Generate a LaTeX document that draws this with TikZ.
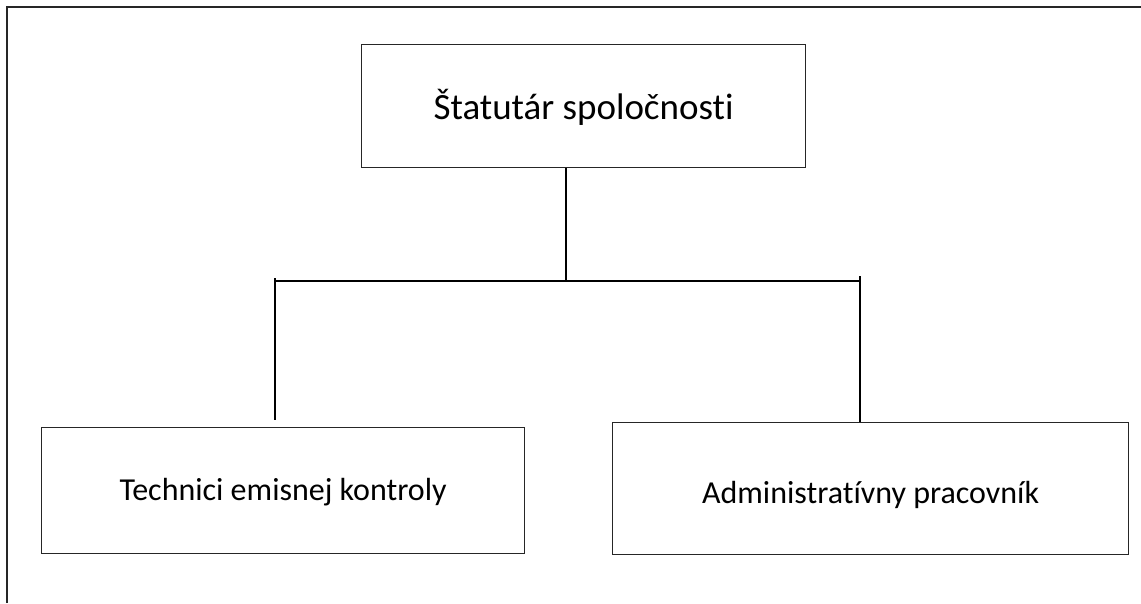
\documentclass[tikz,border=0pt]{standalone}
\usepackage{fontspec}
\setmainfont[Ligatures=NoCommon]{Carlito}
\begin{document}
\begin{tikzpicture}[x=1pt,y=-1pt,
  box/.style={draw=black!85,line width=1.2pt,inner sep=0pt,anchor=north west},
  conn/.style={draw=black,line width=2pt},
  frameline/.style={draw=black!85,line width=1.3pt}]
\useasboundingbox (0,0) rectangle (1141,603);
\fill[white] (0,0) rectangle (1141,603);
% outer frame
\draw[frameline] (7,603) -- (7,7) -- (1141,7);
% boxes
\node[box,minimum width=444pt,minimum height=123pt] (top) at (361,44) {};
\node[font=\fontsize{37}{44}\selectfont,anchor=base] at ([yshift=-13pt]top.center) {Štatutár spoločnosti};
\node[box,minimum width=483pt,minimum height=126pt] (left) at (41,427) {};
\node[font=\fontsize{32}{38}\selectfont,anchor=base] at ([yshift=-10pt]left.center) {Technici emisnej kontroly};
\node[box,minimum width=516pt,minimum height=132pt] (right) at (612,422) {};
\node[font=\fontsize{32}{38}\selectfont,anchor=base] at ([yshift=-15pt]right.center) {Administratívny pracovník};
% connectors
\coordinate (j) at (566,281);
\coordinate (jl) at (275,281);
\coordinate (jr) at (860,281);
\draw[conn] (top.south -| j) -- (j);
\draw[conn] (jl) -- (jr);
\draw[conn] ([yshift=3pt]jl) -- ([yshift=7pt]jl |- left.north);
\draw[conn] ([yshift=5pt]jr) -- (jr |- right.north);
\end{tikzpicture}
\end{document}
